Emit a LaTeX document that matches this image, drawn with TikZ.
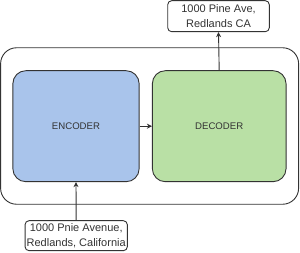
\documentclass[tikz,border=0pt]{standalone}
\usepackage{fontspec}
\setmainfont{Liberation Sans}
\usetikzlibrary{arrows.meta}
\definecolor{encfill}{HTML}{A9C4EB}
\definecolor{decfill}{HTML}{B9E0A5}
\definecolor{ink}{HTML}{333333}
\begin{document}
\begin{tikzpicture}[x=1pt,y=-1pt,
  box/.style={draw=ink, line width=0.9pt, rounded corners=#1, inner sep=0pt},
  box/.default=6pt,
  lbl/.style={box=4pt, align=center, text=ink, font=\fontsize{11}{14.3}\selectfont},
  blk/.style={box=13pt, text=ink, font=\fontsize{9.6}{11}\selectfont, minimum height=111pt},
  arr/.style={draw=ink, line width=0.9pt, -{Stealth[length=5pt,width=5pt]}}
]
\useasboundingbox (0,0) rectangle (300,253);
\node[box=16pt, minimum width=298pt, minimum height=156.5pt] (outer) at (149.6,126) {};
\node[blk, fill=encfill, minimum width=126.3pt] (enc) at (76,126.2) {ENCODER};
\node[blk, fill=decfill, minimum width=133.7pt] (dec) at (219.2,126.2) {DECODER};
\node[lbl, minimum width=101.6pt, minimum height=31pt] (top) at (218.5,16.2) {1000 Pine Ave,\\Redlands CA};
\node[lbl, minimum width=102.3pt, minimum height=30pt] (bot) at (76.2,235.7) {1000 Pnie Avenue,\\Redlands, California};
\draw[arr] (bot.north) -- (enc.south);
\draw[arr] (enc.east) -- (dec.west);
\draw[arr] (dec.north) -- (top.south);
\end{tikzpicture}
\end{document}
